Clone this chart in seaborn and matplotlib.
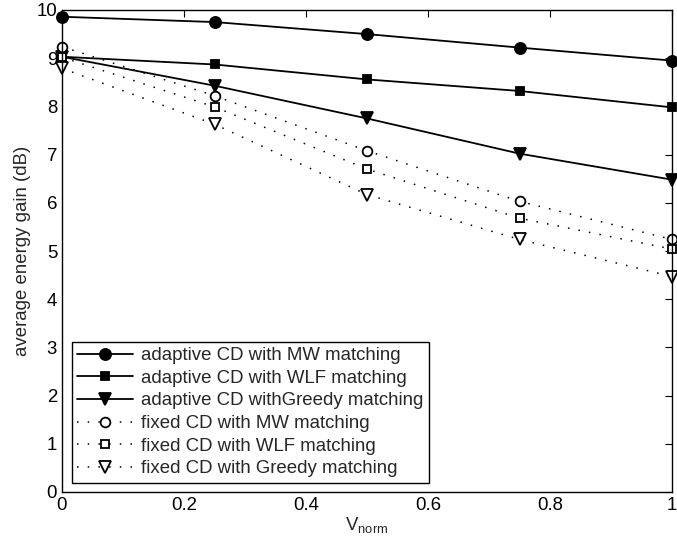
import matplotlib
matplotlib.use("Agg")
import matplotlib.pyplot as plt
import seaborn as sns
import pandas as pd

# values
v_norm = [0, 0.25, 0.5, 0.75, 1.0]
adaptive_mw = [9.86, 9.75, 9.50, 9.22, 8.95]
adaptive_wlf = [9.03, 8.87, 8.56, 8.32, 7.98]
adaptive_greedy = [9.03, 8.43, 7.75, 7.02, 6.48]
fixed_mw = [9.24, 8.22, 7.08, 6.03, 5.24]
fixed_wlf = [9.02, 7.99, 6.70, 5.68, 5.04]
fixed_greedy = [8.79, 7.63, 6.17, 5.24, 4.47]

labels = ['adaptive CD with MW matching',
          'adaptive CD with WLF matching',
          'adaptive CD withGreedy matching',
          'fixed CD with MW matching',
          'fixed CD with WLF matching',
          'fixed CD with Greedy matching']
series = [adaptive_mw, adaptive_wlf, adaptive_greedy, fixed_mw, fixed_wlf, fixed_greedy]

sns.set_style("white")
plt.rcParams['font.family'] = ['Liberation Sans', 'DejaVu Sans']
plt.rcParams['mathtext.fontset'] = 'custom'
plt.rcParams['mathtext.rm'] = 'Liberation Sans'

fs = 13.4
fig = plt.figure(figsize=(6.77, 5.54), dpi=100)
ax = fig.add_axes([62 / 677, 62 / 554, 610 / 677, 482 / 554])

# marker, fill, size, linestyle for each series
dots = (0, (1, 6))
styles = [('o', 'k', 8, '-'), ('s', 'k', 6, '-'), ('v', 'k', 9, '-'),
          ('o', 'w', 7, dots), ('s', 'w', 5.5, dots), ('v', 'w', 9, dots)]

for vals, lab, (m, fc, ms, ls) in zip(series, labels, styles):
    df = pd.DataFrame({'x': v_norm, 'y': vals})
    sns.lineplot(data=df, x='x', y='y', ax=ax, color='k', lw=1.3 if ls == '-' else 1.1,
                 linestyle=ls, marker=m, markersize=ms, markerfacecolor=fc,
                 markeredgecolor='k', markeredgewidth=1.3, label=lab, clip_on=False)

ax.set_xlim(0, 1)
ax.set_ylim(0, 10)
ax.set_xticks([0, 0.2, 0.4, 0.6, 0.8, 1])
ax.set_xticklabels(['0', '0.2', '0.4', '0.6', '0.8', '1'])
ax.set_yticks(range(0, 11))
ax.tick_params(direction='in', top=True, right=True, length=5, width=0.8,
               labelsize=fs, colors='k', pad=3.5)
for s in ax.spines.values():
    s.set_color('k')
    s.set_linewidth(1)

ax.set_xlabel('V$_{\\mathregular{norm}}$', fontsize=fs, labelpad=1)
ax.set_ylabel('average energy gain (dB)', fontsize=fs, labelpad=4)

leg = ax.legend(loc='lower left', bbox_to_anchor=(0.016, 0.019), fontsize=fs,
                frameon=True, fancybox=False, edgecolor='k', framealpha=1,
                handlelength=3.0, handletextpad=0.4, borderpad=0.3,
                labelspacing=0.3, borderaxespad=0, numpoints=1)
leg.get_frame().set_linewidth(1)

fig.savefig('out.png', dpi=100)
